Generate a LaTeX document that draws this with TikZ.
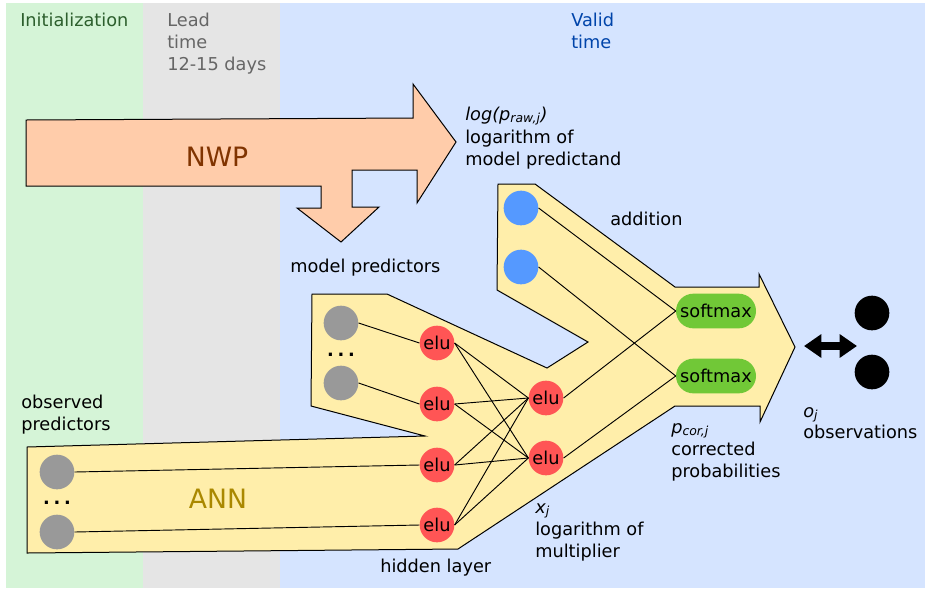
\documentclass[tikz,border=0pt]{standalone}
\usepackage{fontspec}
\setmainfont{DejaVu Sans}
\usetikzlibrary{arrows.meta}

\definecolor{bandgreen}{HTML}{D5F4D7}
\definecolor{bandgray}{HTML}{E5E5E5}
\definecolor{bandblue}{HTML}{D5E4FF}
\definecolor{initgreen}{HTML}{2D5F2D}
\definecolor{leadgray}{HTML}{666666}
\definecolor{validblue}{HTML}{0044AA}
\definecolor{nwpfill}{HTML}{FFCCAA}
\definecolor{nwptext}{HTML}{803300}
\definecolor{annfill}{HTML}{FFEEAA}
\definecolor{anntext}{HTML}{AA8800}
\definecolor{elured}{HTML}{FF5555}
\definecolor{addblue}{HTML}{5599FF}
\definecolor{inputgray}{HTML}{999999}
\definecolor{softgreen}{HTML}{71C837}

\begin{document}
\begin{tikzpicture}[x=0.75pt,y=-0.75pt,
  every node/.style={font=\fontsize{13.3}{16}\selectfont},
  lbl/.style={anchor=base west, inner sep=0pt},
  shape outline/.style={draw=black, line width=0.75pt, line join=miter},
  unit/.style={circle, inner sep=0pt, minimum size=26pt},
  elu/.style={unit, fill=elured},
  inp/.style={unit, fill=inputgray},
  addin/.style={unit, fill=addblue},
  obs/.style={unit, fill=black},
  soft/.style={rectangle, rounded corners=13pt, fill=softgreen, inner sep=0pt,
    minimum width=60pt, minimum height=26pt},
  link/.style={draw=black, line width=0.7pt},
  dots/.style={anchor=base, inner sep=0pt, font=\fontsize{13.3}{16}\selectfont\bfseries}
]
\useasboundingbox (0,0) rectangle (927,590);

% time bands
\fill[bandgreen] (6,3) rectangle (143,588);
\fill[bandgray] (143,3) rectangle (280,588);
\fill[bandblue] (280,3) rectangle (925,588);

% band titles
\node[lbl, text=initgreen] (tInit) at (20,26) {Initialization};
\node[lbl, text=leadgray] (tLead1) at (167,26) {Lead};
\node[lbl, text=leadgray] (tLead2) at (167,48) {time};
\node[lbl, text=leadgray] (tLead3) at (167,70) {12-15 days};
\node[lbl, text=validblue] (tValid1) at (571,26) {Valid};
\node[lbl, text=validblue] (tValid2) at (571,48) {time};

% NWP arrow with the branch down to the model predictors
\draw[shape outline, fill=nwpfill]
  (26,120) -- (413,118) -- (413,84) -- (456,142) -- (417,203) -- (417,170)
  -- (352,170) -- (352,207) -- (379,207) -- (341,242) -- (297,208)
  -- (321,208) -- (321,186) -- (26,186) -- cycle;
\node[text=nwptext, font=\fontsize{20}{24}\selectfont, inner sep=0pt] (nwp) at (217,157) {NWP};

% ANN body: observed-predictor bar, model-predictor branch, addition branch
\draw[shape outline, fill=annfill]
  (27,447) -- (425,436) -- (311,406) -- (312,294) -- (387,294) -- (547,368)
  -- (588,342) -- (497,290) -- (498,184) -- (535,184) -- (675,287) -- (759,287)
  -- (759,274) -- (795,347) -- (760,422) -- (760,406) -- (675,406) -- (458,549)
  -- (27,553) -- cycle;
\node[text=anntext, font=\fontsize{20}{24}\selectfont, inner sep=0pt] (ann) at (218,499) {ANN};

% inputs
\node[inp] (m1) at (341,323) {};
\node[inp] (m2) at (341,383) {};
\node[dots] (mdots) at (341,356) {.\kern2.8pt.\kern2.8pt.};
\node[inp] (p1) at (57,472) {};
\node[inp] (p2) at (57,532) {};
\node[dots] (pdots) at (57,504) {.\kern2.8pt.\kern2.8pt.};
\node[addin] (a1) at (521,208) {};
\node[addin] (a2) at (521,267) {};

% hidden and output layers
\node[elu] (h1) at (437,343) {elu};
\node[elu] (h2) at (437,404) {elu};
\node[elu] (h3) at (437,465) {elu};
\node[elu] (h4) at (437,525) {elu};
\node[elu] (o1) at (546,398) {elu};
\node[elu] (o2) at (546,458) {elu};

\node[soft] (s1) at (716,311) {softmax};
\node[soft] (s2) at (716,376) {softmax};

% observations
\node[obs] (b1) at (872,313) {};
\node[obs] (b2) at (872,372) {};

% connections
\draw[link] (m1.east) -- (h1.west);
\draw[link] (m2.east) -- (h2.west);
\draw[link] (p1.east) -- (h3.west);
\draw[link] (p2.east) -- (h4.west);
\foreach \h in {h1,h2,h3,h4}{
  \draw[link] (\h.east) -- (o1.west);
  \draw[link] (\h.east) -- (o2.west);
}
\draw[link] (o1.east) -- (s1.west);
\draw[link] (o2.east) -- (s2.west);
\draw[link] (a1.east) -- (s1.west);
\draw[link] (a2.east) -- (s2.west);

% comparison with observations
\coordinate (cmpL) at (804,346);
\coordinate (cmpR) at (857,346);
\draw[line width=5.5pt, {Triangle[length=13pt,width=17pt]}-{Triangle[length=13pt,width=17pt]}] (cmpL) -- (cmpR);

% annotations
\node[lbl] (lp1) at (465,120) {\textit{log(p\textsubscript{raw,j})}};
\node[lbl] (lp2) at (465,143) {logarithm of};
\node[lbl] (lp3) at (465,165) {model predictand};
\node[lbl] (add) at (610,225) {addition};
\node[lbl] (mp) at (290,272) {model predictors};
\node[lbl] (op1) at (21,408) {observed};
\node[lbl] (op2) at (21,430) {predictors};
\node[lbl] (hl) at (380,572) {hidden layer};
\node[lbl] (x1) at (535,513) {\textit{x\textsubscript{j}}};
\node[lbl] (x2) at (535,535) {logarithm of};
\node[lbl] (x3) at (535,557) {multiplier};
\node[lbl] (pc1) at (671,433) {\textit{p\textsubscript{cor,j}}};
\node[lbl] (pc2) at (671,455) {corrected};
\node[lbl] (pc3) at (671,477) {probabilities};
\node[lbl] (oj1) at (803,417) {\textit{o\textsubscript{j}}};
\node[lbl] (oj2) at (803,438) {observations};
\end{tikzpicture}
\end{document}
